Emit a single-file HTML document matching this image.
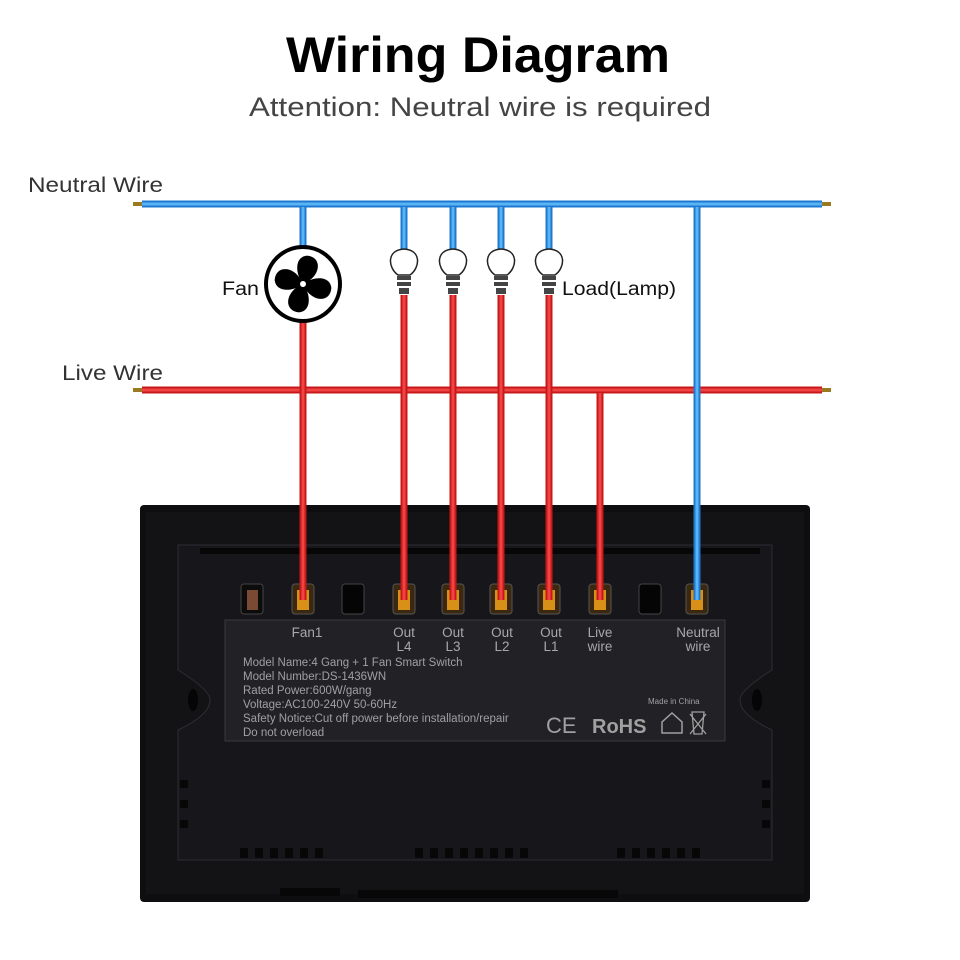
<!DOCTYPE html>
<html><head><meta charset="utf-8"><style>
html,body{margin:0;padding:0;background:#fff;}
svg{display:block}
</style></head><body>
<svg width="960" height="960" viewBox="0 0 960 960" xmlns="http://www.w3.org/2000/svg" font-family="Liberation Sans, sans-serif">
<rect width="960" height="960" fill="#fff"/>
<text x="478" y="72" text-anchor="middle" font-size="50" font-weight="bold" fill="#000" textLength="384" lengthAdjust="spacingAndGlyphs">Wiring Diagram</text>
<text x="480" y="116" text-anchor="middle" font-size="27" fill="#444" textLength="462" lengthAdjust="spacingAndGlyphs">Attention: Neutral wire is required</text>
<text x="28" y="192" font-size="21" fill="#333" textLength="135" lengthAdjust="spacingAndGlyphs">Neutral Wire</text>
<text x="62" y="380" font-size="21" fill="#333" textLength="101" lengthAdjust="spacingAndGlyphs">Live Wire</text>
<text x="222" y="295" font-size="19" fill="#111" textLength="37" lengthAdjust="spacingAndGlyphs">Fan</text>
<text x="562" y="295" font-size="19" fill="#111" textLength="114" lengthAdjust="spacingAndGlyphs">Load(Lamp)</text>

<!-- switch body -->
<rect x="140" y="505" width="670" height="397" rx="4" fill="#0e0e10"/>
<rect x="146" y="512" width="658" height="382" fill="#131316"/>
<path d="M178 545 H772 V670 Q740 690 740 700 Q740 715 772 730 V860 H178 V730 Q210 715 210 700 Q210 690 178 670 Z" fill="#17171b" stroke="#2e2e32" stroke-width="1"/>
<g fill="#070707">
<rect x="200" y="548" width="560" height="6"/>
</g>
<rect x="225" y="620" width="500" height="121" fill="#222226" stroke="#3a3a3e"/>
<ellipse cx="193" cy="700" rx="5" ry="11" fill="#050505"/>
<ellipse cx="757" cy="700" rx="5" ry="11" fill="#050505"/>
<g fill="#070707">
<rect x="240" y="848" width="8" height="10"/><rect x="255" y="848" width="8" height="10"/><rect x="270" y="848" width="8" height="10"/><rect x="285" y="848" width="8" height="10"/><rect x="300" y="848" width="8" height="10"/><rect x="315" y="848" width="8" height="10"/>
<rect x="415" y="848" width="8" height="10"/><rect x="430" y="848" width="8" height="10"/><rect x="445" y="848" width="8" height="10"/><rect x="460" y="848" width="8" height="10"/><rect x="475" y="848" width="8" height="10"/><rect x="490" y="848" width="8" height="10"/><rect x="505" y="848" width="8" height="10"/><rect x="520" y="848" width="8" height="10"/>
<rect x="617" y="848" width="8" height="10"/><rect x="632" y="848" width="8" height="10"/><rect x="647" y="848" width="8" height="10"/><rect x="662" y="848" width="8" height="10"/><rect x="677" y="848" width="8" height="10"/><rect x="692" y="848" width="8" height="10"/>
<rect x="180" y="780" width="8" height="8"/><rect x="180" y="800" width="8" height="8"/><rect x="180" y="820" width="8" height="8"/>
<rect x="762" y="780" width="8" height="8"/><rect x="762" y="800" width="8" height="8"/><rect x="762" y="820" width="8" height="8"/>
<rect x="280" y="888" width="60" height="8"/><rect x="358" y="890" width="260" height="8"/>
</g>

<!-- terminals -->
<g>
<rect x="241" y="584" width="22" height="30" rx="3" fill="#0c0c0c" stroke="#444"/>
<rect x="247" y="590" width="11" height="20" fill="#7a4a35"/>
<rect x="342" y="584" width="22" height="30" rx="3" fill="#050505" stroke="#444"/>
<rect x="639" y="584" width="22" height="30" rx="3" fill="#050505" stroke="#444"/>
<g fill="#3a2810" stroke="#555">
<rect x="292" y="584" width="22" height="30" rx="3"/><rect x="393" y="584" width="22" height="30" rx="3"/><rect x="442" y="584" width="22" height="30" rx="3"/><rect x="490" y="584" width="22" height="30" rx="3"/><rect x="538" y="584" width="22" height="30" rx="3"/><rect x="589" y="584" width="22" height="30" rx="3"/><rect x="686" y="584" width="22" height="30" rx="3"/>
</g>
<g fill="#d89018">
<rect x="297" y="590" width="12" height="20"/><rect x="398" y="590" width="12" height="20"/><rect x="447" y="590" width="12" height="20"/><rect x="495" y="590" width="12" height="20"/><rect x="543" y="590" width="12" height="20"/><rect x="594" y="590" width="12" height="20"/><rect x="691" y="590" width="12" height="20"/>
</g>
</g>

<g fill="#a8a8a8" font-size="13.5" text-anchor="middle">
<text x="307" y="637">Fan1</text>
<text x="404" y="637">Out</text><text x="404" y="651">L4</text>
<text x="453" y="637">Out</text><text x="453" y="651">L3</text>
<text x="502" y="637">Out</text><text x="502" y="651">L2</text>
<text x="551" y="637">Out</text><text x="551" y="651">L1</text>
<text x="600" y="637">Live</text><text x="600" y="651">wire</text>
<text x="698" y="637">Neutral</text><text x="698" y="651">wire</text>
</g>
<g fill="#a0a0a0" font-size="11.5">
<text x="243" y="666">Model Name:4 Gang + 1 Fan Smart Switch</text>
<text x="243" y="680">Model Number:DS-1436WN</text>
<text x="243" y="694">Rated Power:600W/gang</text>
<text x="243" y="708">Voltage:AC100-240V 50-60Hz</text>
<text x="243" y="722">Safety Notice:Cut off power before installation/repair</text>
<text x="243" y="736">Do not overload</text>
<text x="648" y="704" font-size="8">Made in China</text>
<text x="546" y="733" font-size="22">CE</text>
<text x="592" y="733" font-size="20" font-weight="bold">RoHS</text>
</g>
<path d="M662 733 V722 L672 713 L682 722 V733 Z" fill="none" stroke="#a0a0a0" stroke-width="1.5"/>
<path d="M692 712 H704 L702 734 H694 Z M690 714 L706 734 M706 714 L690 734" fill="none" stroke="#a0a0a0" stroke-width="1.3"/>

<!-- wires -->
<g stroke-linecap="butt">
<line x1="133" y1="204" x2="142" y2="204" stroke="#9a7a20" stroke-width="4"/>
<line x1="822" y1="204" x2="831" y2="204" stroke="#9a7a20" stroke-width="4"/>
<line x1="142" y1="204" x2="822" y2="204" stroke="#1f78cf" stroke-width="7"/>
<line x1="142" y1="204" x2="822" y2="204" stroke="#58b4f4" stroke-width="3"/>
<line x1="133" y1="390" x2="142" y2="390" stroke="#9a7a20" stroke-width="4"/>
<line x1="822" y1="390" x2="831" y2="390" stroke="#9a7a20" stroke-width="4"/>
<line x1="142" y1="390" x2="822" y2="390" stroke="#c81818" stroke-width="7"/>
<line x1="142" y1="390" x2="822" y2="390" stroke="#f04444" stroke-width="3"/>
<g stroke="#1f78cf" stroke-width="7">
<line x1="303" y1="207" x2="303" y2="248"/><line x1="404" y1="207" x2="404" y2="252"/><line x1="453" y1="207" x2="453" y2="252"/><line x1="501" y1="207" x2="501" y2="252"/><line x1="549" y1="207" x2="549" y2="252"/><line x1="697" y1="207" x2="697" y2="600"/>
</g>
<g stroke="#58b4f4" stroke-width="3">
<line x1="303" y1="207" x2="303" y2="248"/><line x1="404" y1="207" x2="404" y2="252"/><line x1="453" y1="207" x2="453" y2="252"/><line x1="501" y1="207" x2="501" y2="252"/><line x1="549" y1="207" x2="549" y2="252"/><line x1="697" y1="207" x2="697" y2="600"/>
</g>
<g stroke="#c81818" stroke-width="7">
<line x1="303" y1="320" x2="303" y2="600"/><line x1="404" y1="295" x2="404" y2="600"/><line x1="453" y1="295" x2="453" y2="600"/><line x1="501" y1="295" x2="501" y2="600"/><line x1="549" y1="295" x2="549" y2="600"/><line x1="600" y1="393" x2="600" y2="600"/>
</g>
<g stroke="#f04444" stroke-width="3">
<line x1="303" y1="320" x2="303" y2="600"/><line x1="404" y1="295" x2="404" y2="600"/><line x1="453" y1="295" x2="453" y2="600"/><line x1="501" y1="295" x2="501" y2="600"/><line x1="549" y1="295" x2="549" y2="600"/><line x1="600" y1="393" x2="600" y2="600"/>
</g>
</g>

<!-- fan -->
<circle cx="303" cy="284" r="37" fill="#fff" stroke="#000" stroke-width="4"/>
<g fill="#000" transform="translate(303,284) rotate(20)">
<path d="M0 0 C-10 -6 -18 -22 -6 -28 C8 -32 14 -16 3 -3 Z"/>
<path d="M0 0 C-10 -6 -18 -22 -6 -28 C8 -32 14 -16 3 -3 Z" transform="rotate(90)"/>
<path d="M0 0 C-10 -6 -18 -22 -6 -28 C8 -32 14 -16 3 -3 Z" transform="rotate(180)"/>
<path d="M0 0 C-10 -6 -18 -22 -6 -28 C8 -32 14 -16 3 -3 Z" transform="rotate(270)"/>
<circle r="4" fill="#fff" stroke="#000" stroke-width="2"/>
</g>

<!-- bulbs -->
<g fill="#fff" stroke="#222" stroke-width="1.5">
<path d="M398 275 C388 268 386 250 404 249 C422 250 420 268 410 275 Z"/>
<path d="M447 275 C437 268 435 250 453 249 C471 250 469 268 459 275 Z"/>
<path d="M495 275 C485 268 483 250 501 249 C519 250 517 268 507 275 Z"/>
<path d="M543 275 C533 268 531 250 549 249 C567 250 565 268 555 275 Z"/>
</g>
<g fill="#444">
<rect x="397" y="276" width="14" height="4"/><rect x="397" y="282" width="14" height="4"/><rect x="399" y="288" width="10" height="6"/>
<rect x="446" y="276" width="14" height="4"/><rect x="446" y="282" width="14" height="4"/><rect x="448" y="288" width="10" height="6"/>
<rect x="494" y="276" width="14" height="4"/><rect x="494" y="282" width="14" height="4"/><rect x="496" y="288" width="10" height="6"/>
<rect x="542" y="276" width="14" height="4"/><rect x="542" y="282" width="14" height="4"/><rect x="544" y="288" width="10" height="6"/>
</g>
</svg>
</body></html>
